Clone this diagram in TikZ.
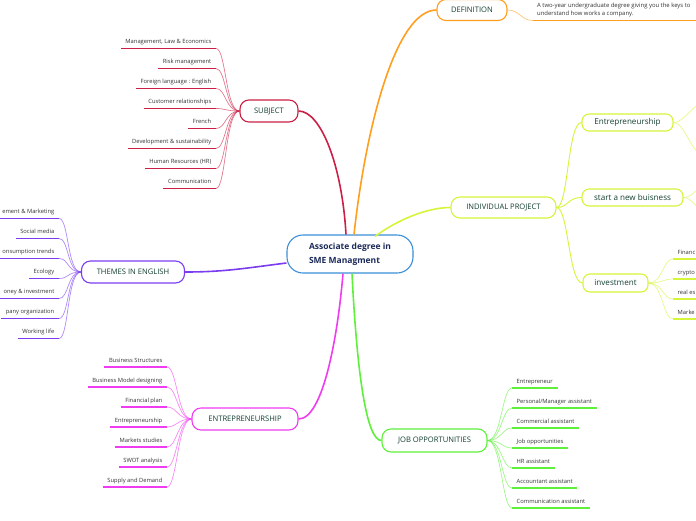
\documentclass[tikz,border=0pt]{standalone}
\usepackage{fontspec}
\setmainfont{Open Sans}
\definecolor{cSub}{HTML}{CC1F45}
\definecolor{cDef}{HTML}{FF9E1F}
\definecolor{cInd}{HTML}{D4F53A}
\definecolor{cJob}{HTML}{5EF03A}
\definecolor{cEnt}{HTML}{F03CF0}
\definecolor{cThe}{HTML}{7B3CF0}
\definecolor{cCen}{HTML}{3A8FD8}
\definecolor{lbl}{HTML}{133F32}
\definecolor{cenT}{HTML}{1C2B5A}
\definecolor{txt}{HTML}{333333}
\begin{document}
\begin{tikzpicture}[x=1pt,y=-1pt,
  branch/.style={draw=#1, line width=1.1pt, rounded corners=9pt, fill=white, text=lbl, font=\fontsize{7.6}{8}\selectfont, inner sep=0pt},
  subbox/.style={draw=#1, line width=1.1pt, rounded corners=7pt, fill=white, text=lbl, font=\fontsize{8.1}{9}\selectfont, inner sep=0pt},
  leafL/.style={anchor=south east, font=\fontsize{5.8}{7}\selectfont, text=txt, inner xsep=4.5pt, inner ysep=3pt, text height=5pt, text depth=1.5pt},
  leafR/.style={leafL, anchor=south west},
  ul/.style={draw=#1, line width=1.8pt},
  kid/.style={draw=#1, line width=0.7pt, draw opacity=0.6},
  trunk/.style={draw=#1, line width=1.6pt},
]
\path[use as bounding box, clip] (0,0) rectangle (696,520);

% central node
\node[draw=cCen, line width=1.1pt, rounded corners=16pt, fill=white, minimum width=126pt, minimum height=38pt, align=left, text=cenT, font=\fontsize{8.5}{14}\selectfont\bfseries, inner sep=0pt] (cen) at (350,254) {Associate degree in\\SME Managment};

% main branches
\node[branch=cSub, minimum width=58pt, minimum height=22pt] (sub) at (269,111) {SUBJECT};
\node[branch=cDef, minimum width=70pt, minimum height=21pt] (def) at (472,10) {DEFINITION};
\node[branch=cInd, minimum width=105pt, minimum height=21pt] (ind) at (503.5,207.5) {INDIVIDUAL PROJECT};
\node[branch=cJob, minimum width=105pt, minimum height=23pt] (job) at (434.5,440.5) {JOB OPPORTUNITIES};
\node[branch=cEnt, minimum width=106pt, minimum height=22pt] (ent) at (245,419) {ENTREPRENEURSHIP};
\node[branch=cThe, minimum width=103pt, minimum height=22pt] (the) at (133,272) {THEMES IN ENGLISH};

% second level of individual project
\node[subbox=cInd, minimum width=91pt, minimum height=17pt] (ent2) at (627.5,122.5) {Entrepreneurship};
\node[subbox=cInd, minimum width=101pt, minimum height=17pt] (sanb) at (632.5,197.5) {start a new buisness};
\node[subbox=cInd, minimum width=65pt, minimum height=18pt] (inv) at (615.5,283) {investment};

% trunks
\draw[trunk=cSub] ([xshift=-4pt]cen.north) .. controls +(-4,-70) and +(22,0) .. (sub.east);
\draw[trunk=cDef] ([xshift=4pt]cen.north) .. controls +(12,-110) and +(-40,0) .. (def.west);
\draw[trunk=cInd] ([xshift=25pt,yshift=-2pt]cen.north) .. controls +(20,-15) and +(-25,0) .. (ind.west);
\draw[trunk=cThe] ([yshift=-9pt]cen.west) .. controls +(-40,5) and +(40,0) .. (the.east);
\draw[trunk=cEnt] ([xshift=-7pt]cen.south) .. controls +(-5,60) and +(25,0) .. (ent.east);
\draw[trunk=cJob] ([xshift=2pt]cen.south) .. controls +(5,100) and +(-15,0) .. (job.west);
\draw[trunk=cInd, line width=0.9pt] (ind.east) .. controls +(12,0) and +(-14,0) .. (ent2.west);
\draw[trunk=cInd, line width=0.9pt] (ind.east) .. controls +(12,0) and +(-14,0) .. (sanb.west);
\draw[trunk=cInd, line width=0.9pt] (ind.east) .. controls +(12,0) and +(-14,0) .. (inv.west);

% definition text
\node[anchor=south west, font=\fontsize{5.9}{8}\selectfont, text=txt, align=left, inner xsep=4pt, inner ysep=3pt, text depth=1.5pt] (deft) at (533,20.5) {A two-year undergraduate degree giving you the keys to\\understand how works a company.};
\draw[ul=cDef] (deft.south west) -- ++(175,0);
\draw[kid=cDef] (def.east) .. controls +(12,0) and +(-12,0) .. (deft.south west);

% SUBJECT children
\foreach [count=\i] \t in {{Management, Law \& Economics},{Risk management},{Foreign language : English},{Customer relationships},{French},{Development \& sustainability},{Human Resources (HR)},{Communication}} {
  \node[leafL] (s\i) at (216,28.5+20*\i) {\t};
  \draw[ul=cSub] (s\i.south west) -- (s\i.south east);
  \draw[kid=cSub] (sub.west) .. controls +(-14,0) and +(10,0) .. (s\i.south east);
}

% THEMES children
\foreach [count=\i] \t in {{ement \& Marketing},{Social media},{onsumption trends},{Ecology},{oney \& investment},{pany organization},{Working life}} {
  \node[leafL] (t\i) at (59,198.5+20*\i) {\t};
  \draw[ul=cThe] (t\i.south west) -- (t\i.south east);
  \draw[kid=cThe] (the.west) .. controls +(-14,0) and +(10,0) .. (t\i.south east);
}

% ENTREPRENEURSHIP children
\foreach [count=\i] \t in {{Business Structures},{Business Model designing},{Financial plan},{Entrepreneurship},{Markets studies},{SWOT analysis},{Supply and Demand}} {
  \node[leafL] (e\i) at (167,347+20*\i) {\t};
  \draw[ul=cEnt] (e\i.south west) -- (e\i.south east);
  \draw[kid=cEnt] (ent.west) .. controls +(-14,0) and +(10,0) .. (e\i.south east);
}

% JOB children
\foreach [count=\i] \t in {{Entrepreneur},{Personal/Manager assistant},{Commercial assistant},{Job opportunities},{HR assistant},{Accountant assistant},{Communication assistant}} {
  \node[leafR] (j\i) at (512,368+20*\i) {\t};
  \draw[ul=cJob] (j\i.south west) -- (j\i.south east);
  \draw[kid=cJob] (job.east) .. controls +(14,0) and +(-10,0) .. (j\i.south west);
}

% investment children
\foreach [count=\i] \t in {{Financ},{crypto},{real es},{Marke}} {
  \node[leafR] (v\i) at (673,239+20*\i) {\t};
  \draw[ul=cInd] (v\i.south west) -- ++(40,0);
  \draw[kid=cInd] (inv.east) .. controls +(14,0) and +(-10,0) .. (v\i.south west);
}

% off-page children
\coordinate (e2a) at (708,102);
\coordinate (e2b) at (708,158);
\coordinate (sba) at (708,186);
\coordinate (sbb) at (708,212);
\draw[kid=cInd] (ent2.east) .. controls +(12,0) and +(-16,0) .. (e2a);
\draw[kid=cInd] (ent2.east) .. controls +(12,0) and +(-16,0) .. (e2b);
\draw[kid=cInd] (sanb.east) .. controls +(10,0) and +(-12,0) .. (sba);
\draw[kid=cInd] (sanb.east) .. controls +(10,0) and +(-12,0) .. (sbb);
\end{tikzpicture}
\end{document}
